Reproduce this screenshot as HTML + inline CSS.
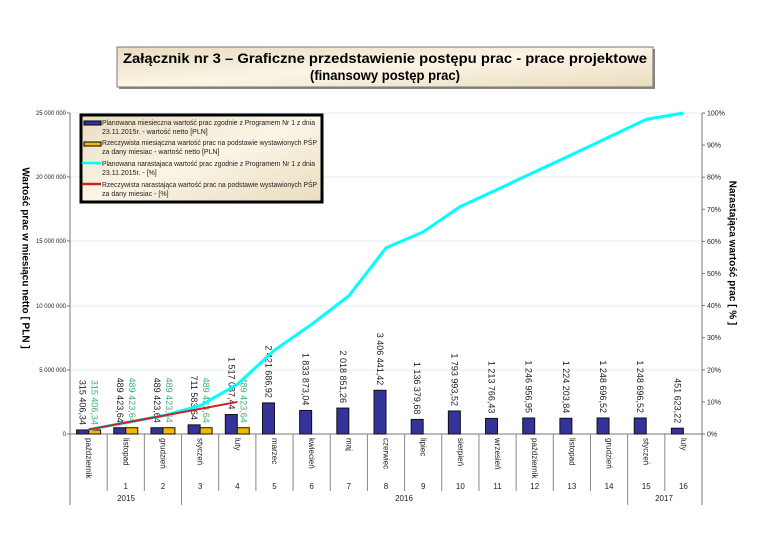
<!DOCTYPE html>
<html><head><meta charset="utf-8"><style>
html,body{margin:0;padding:0;background:#fff;}
svg{display:block;font-family:"Liberation Sans",Arial,sans-serif;}
</style></head><body>
<svg width="768" height="543" viewBox="0 0 768 543" xmlns="http://www.w3.org/2000/svg">
<defs>
<linearGradient id="bg" x1="0" y1="0" x2="1" y2="1">
<stop offset="0" stop-color="#e9dcc0"/><stop offset="0.5" stop-color="#fbf5e6"/><stop offset="1" stop-color="#eadcbd"/>
</linearGradient>
</defs>
<rect x="119" y="49" width="536" height="40" fill="#888"/>
<rect x="117" y="47" width="536" height="40" fill="url(#bg)" stroke="#777" stroke-width="1"/>
<text x="385" y="63" font-size="14" font-weight="bold" text-anchor="middle" textLength="524" lengthAdjust="spacingAndGlyphs">Załącznik nr 3 – Graficzne przedstawienie postępu prac - prace projektowe</text>
<text x="385" y="80" font-size="14" font-weight="bold" text-anchor="middle" textLength="150" lengthAdjust="spacingAndGlyphs">(finansowy postęp prac)</text>

<g stroke="#e6ecf2" stroke-width="1">
<line x1="70" y1="113" x2="702" y2="113"/><line x1="70" y1="177" x2="702" y2="177"/>
<line x1="70" y1="241" x2="702" y2="241"/><line x1="70" y1="306" x2="702" y2="306"/>
<line x1="70" y1="370" x2="702" y2="370"/>
</g>
<g stroke="#777" stroke-width="1">
<line x1="70" y1="113" x2="70" y2="505"/>
<line x1="702" y1="113" x2="702" y2="505"/>
<line x1="70" y1="434" x2="702" y2="434"/>
</g>
<g font-size="6" text-anchor="end" fill="#222">
<text x="66" y="115">25 000 000</text><text x="66" y="179">20 000 000</text>
<text x="66" y="243">15 000 000</text><text x="66" y="308">10 000 000</text>
<text x="66" y="372">5 000 000</text><text x="66" y="436">0</text>
</g>
<g stroke="#777"><line x1="67" y1="113" x2="70" y2="113"/><line x1="67" y1="177" x2="70" y2="177"/><line x1="67" y1="241" x2="70" y2="241"/><line x1="67" y1="306" x2="70" y2="306"/><line x1="67" y1="370" x2="70" y2="370"/><line x1="67" y1="434" x2="70" y2="434"/></g>
<g font-size="7" fill="#222" id="rt"></g>
<text transform="translate(25,258) rotate(90)" font-size="10" font-weight="bold" text-anchor="middle" dominant-baseline="central">Wartość prac w miesiącu netto [ PLN ]</text>
<text transform="translate(732,253) rotate(90)" font-size="10" font-weight="bold" text-anchor="middle" dominant-baseline="central">Narastająca wartość prac [ % ]</text>
<g id="plot"></g>

<rect x="81" y="115" width="241" height="87" fill="url(#bg)" stroke="#000" stroke-width="3"/>
<rect x="84" y="121" width="17" height="4" fill="#333399" stroke="#000" stroke-width="1"/>
<rect x="84" y="142" width="17" height="4" fill="#f5b800" stroke="#000" stroke-width="1"/>
<line x1="82" y1="163" x2="101" y2="163" stroke="#00ffff" stroke-width="2.5"/>
<line x1="82" y1="184" x2="101" y2="184" stroke="#cc2222" stroke-width="2.5"/>
<g font-size="7" fill="#222" lengthAdjust="spacingAndGlyphs">
<text x="102" y="125" textLength="213" lengthAdjust="spacingAndGlyphs">Planowana miesieczna wartość prac zgodnie z Programem Nr 1 z dnia</text>
<text x="102" y="134">23.11.2015r. - wartość netto [PLN]</text>
<text x="102" y="145" textLength="215" lengthAdjust="spacingAndGlyphs">Rzeczywista miesiączna wartość prac na podstawie wystawionych PŚP</text>
<text x="102" y="154">za dany miesiac - wartość netto [PLN]</text>
<text x="102" y="166" textLength="213" lengthAdjust="spacingAndGlyphs">Planowana narastajaca wartość prac zgodnie z Programem Nr 1 z dnia</text>
<text x="102" y="175">23.11.2015r. - [%]</text>
<text x="102" y="187" textLength="215" lengthAdjust="spacingAndGlyphs">Rzeczywista narastająca wartość prac na podstawie wystawionych PŚP</text>
<text x="102" y="196">za dany miesiac - [%]</text>
</g>
<script>
(function(){
var NS="http://www.w3.org/2000/svg";
function el(p,t,a,txt){var e=document.createElementNS(NS,t);for(var k in a)e.setAttribute(k,a[k]);if(txt!=null)e.textContent=txt;p.appendChild(e);return e;}
var rt=document.getElementById('rt');
for(var i=0;i<=10;i++){var y=434-i*32.1;el(rt,'text',{x:707,y:y+2.5},(i*10)+'%');el(rt,'line',{x1:702,y1:y,x2:705,y2:y,stroke:'#777'});}
var g=document.getElementById('plot');
var vals=[315406.34,489423.64,489423.64,711583.64,1517087.44,2421686.92,1833873.04,2018851.26,3406441.42,1136379.68,1793993.52,1213766.43,1246956.95,1224203.84,1248696.52,1248696.52,451623.22];
var labs=["315 406,34","489 423,64","489 423,64","711 583,64","1 517 087,44","2 421 686,92","1 833 873,04","2 018 851,26","3 406 441,42","1 136 379,68","1 793 993,52","1 213 766,43","1 246 956,95","1 224 203,84","1 248 696,52","1 248 696,52","451 623,22"];
var act=[315406.34,489423.64,489423.64,489423.64,489423.64];
var alabs=["315 406,34","489 423,64","489 423,64","489 423,64","489 423,64"];
var months=["październik","listopad","grudzień","styczeń","luty","marzec","kwiecień","maj","czerwiec","lipiec","sierpień","wrzesień","październik","listopad","grudzień","styczeń","luty"];
var W=(702-70)/17, total=0; vals.forEach(function(v){total+=v;});
function cx(i){return 70+W*(i+0.5);}
function hy(v){return 434-v/25000000*321;}
for(var k=1;k<17;k++){var x=70+W*k;var yr=(k==3||k==15);el(g,'line',{x1:x,y1:434,x2:x,y2:yr?505:491,stroke:'#888'});}
el(g,'text',{x:126,y:501,'font-size':8,'text-anchor':'middle',fill:'#222'},'2015');
el(g,'text',{x:404,y:501,'font-size':8,'text-anchor':'middle',fill:'#222'},'2016');
el(g,'text',{x:664,y:501,'font-size':8,'text-anchor':'middle',fill:'#222'},'2017');
var cum=0,cp=[],ca=0,rp=[];
for(var i=0;i<17;i++){
 var c=cx(i),v=vals[i],t=hy(v);
 el(g,'rect',{x:c-12,y:t,width:12,height:434-t,fill:'#333399',stroke:'#111','stroke-width':1});
 if(i<5){var ta=hy(act[i]);el(g,'rect',{x:c,y:ta,width:12,height:434-ta,fill:'#f5b800',stroke:'#111','stroke-width':1});
  el(g,'text',{transform:'translate('+(c+6)+','+(ta-5)+') rotate(90)','font-size':9,'text-anchor':'end','dominant-baseline':'central',fill:'#3cb371'},alabs[i]);
  ca+=act[i];rp.push(c+','+(434-ca/total*321));}
 el(g,'text',{transform:'translate('+(c-6)+','+(t-5)+') rotate(90)','font-size':9,'text-anchor':'end','dominant-baseline':'central',fill:'#222'},labs[i]);
 el(g,'text',{transform:'translate('+c+',438) rotate(90)','font-size':8,'text-anchor':'start','dominant-baseline':'central',fill:'#222'},months[i]);
 if(i>0)el(g,'text',{x:c,y:489,'font-size':8,'text-anchor':'middle',fill:'#222'},String(i));
 cum+=v;cp.push(c+','+(434-cum/total*321));
}
el(g,'polyline',{points:cp.join(' '),fill:'none',stroke:'#00ffff','stroke-width':3});
el(g,'polyline',{points:rp.join(' '),fill:'none',stroke:'#cc2222','stroke-width':2});
})();
</script>
</svg>
</body></html>
